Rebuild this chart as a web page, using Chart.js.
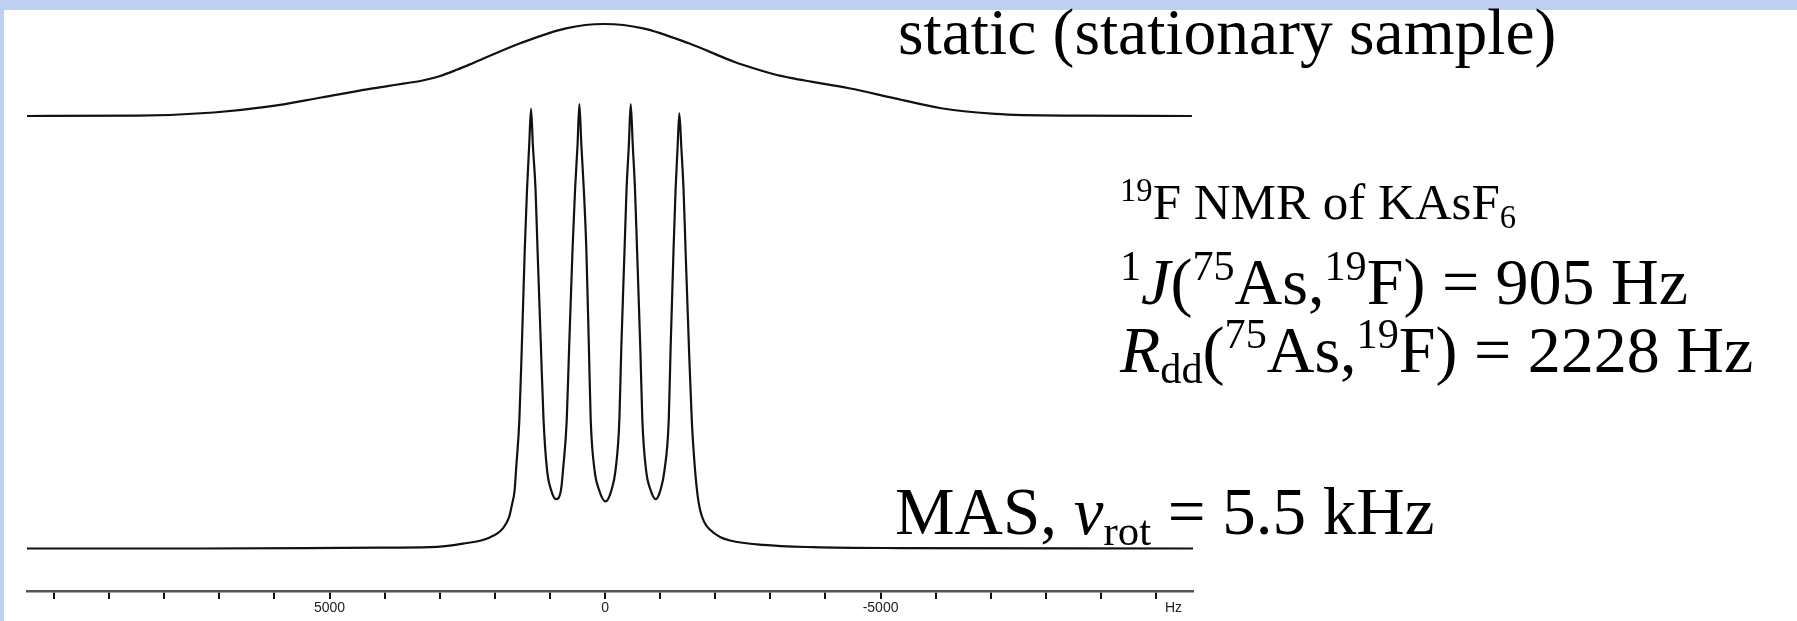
<!DOCTYPE html>
<html>
<head>
<meta charset="utf-8">
<script src="https://cdn.jsdelivr.net/npm/chart.js@4.4.0/dist/chart.umd.min.js"></script>
<style>
  html, body { margin: 0; padding: 0; background: #fff; }
  #wrap { position: relative; width: 1797px; height: 621px; }
</style>
</head>
<body>
<div id="wrap"><canvas id="nmr" width="1797" height="621"></canvas></div>
<script>
// 19F NMR of KAsF6 - frequency in Hz, intensity scaled so the tallest line is 100
var masHz = [10490, 7350, 4080, 3180, 2580, 2090, 1850, 1740, 1690, 1640,
    1615, 1555, 1512, 1457, 1416, 1376, 1343, 1310, 1261, 1225,
    1162, 1116, 1053, 980, 889, 799, 762, 695, 653, 590,
    544, 499, 466, 430, 385, 339, 292, 260, 191, 109,
    -9, -118, -191, -260, -294, -354, -390, -432, -466, -503,
    -544, -581, -641, -677, -744, -826, -920, -1007, -1080, -1156,
    -1189, -1243, -1280, -1316, -1348, -1385, -1425, -1461, -1524, -1574,
    -1633, -1679, -1724, -1797, -1906, -2087, -2269, -2868, -3775, -5354,
    -10670];
var masInt = [0, 0, 0.2, 0.3, 1.1, 2.5, 4.6, 7.1, 9.8, 13.2,
    17.7, 28.9, 44.7, 67.2, 80.7, 90.8, 98.9, 90.8, 80.7, 67.2,
    44.7, 28.9, 17.7, 13.2, 11.1, 13.2, 17.7, 28.9, 44.7, 67.2,
    80.7, 90.8, 100, 90.8, 80.7, 67.2, 44.7, 28.9, 17.7, 13.2,
    10.6, 13.2, 17.7, 28.9, 44.7, 67.2, 80.7, 90.8, 100, 90.8,
    80.7, 67.2, 44.7, 28.9, 17.7, 13.2, 11.1, 13.2, 17.7, 28.9,
    44.7, 67.2, 80.7, 90.1, 97.9, 90.1, 80.7, 67.2, 44.7, 28.9,
    17.7, 12.0, 8.7, 6.0, 4.2, 2.6, 1.8, 0.8, 0.3, 0.1,
    0];

// static (stationary sample) spectrum
var staticHz = [10490, 8480, 7100, 6120, 5150, 4320, 3950, 3630, 3310, 2990, 2680, 2380,
    1540, 710, 20, -690, -1520, -2340, -2710, -3050, -3390, -3740, -4430, -5260,
    -6100, -7080, -8460, -10650];
var staticInt = [0, 0.4, 3.8, 10.1, 20.1, 29.0, 32.5, 35.5, 38.6, 43.5, 50.5, 57.9,
    79.0, 95.3, 100, 95.3, 79.0, 59.0, 51.6, 45.6, 41.1, 37.3, 30.1, 19.2,
    8.4, 2.2, 0.3, 0];

// axis
var tickValues = [10000, 9000, 8000, 7000, 6000, 5000, 4000, 3000, 2000, 1000, 0,
    -1000, -2000, -3000, -4000, -5000, -6000, -7000, -8000, -9000, -10000];
var labelledTicks = [5000, 0, -5000];
var axisUnit = 'Hz';

var serif = '"Liberation Serif", "Times New Roman", serif';
var sans = '"Liberation Sans Narrow", "Arial Narrow", "Liberation Sans", sans-serif';

function toPoints(xs, ys) {
    return xs.map(function (x, i) { return { x: x, y: ys[i] }; });
}

// draws a line of text with super/subscripts and italics
function drawRich(ctx, x, y, runs, size) {
    runs.forEach(function (r) {
        var small = r.sup || r.sub;
        var s = small ? size * 0.64 : size;
        var dy = r.sup ? -size * 0.36 : (r.sub ? size * 0.17 : 0);
        ctx.font = (r.it ? 'italic ' : '') + s + 'px ' + serif;
        ctx.fillText(r.t, x, y + dy);
        x += ctx.measureText(r.t).width;
    });
}

var framePlugin = {
    id: 'frame',
    beforeDraw: function (chart) {
        var ctx = chart.ctx;
        ctx.save();
        ctx.fillStyle = '#ffffff';
        ctx.fillRect(0, 0, chart.width, chart.height);
        ctx.fillStyle = '#BED0F1';
        ctx.fillRect(0, 0, chart.width, 10);
        ctx.fillRect(0, 0, 4, chart.height);
        ctx.restore();
    }
};

var textPlugin = {
    id: 'notes',
    afterDraw: function (chart) {
        var ctx = chart.ctx;
        var area = chart.chartArea;
        ctx.save();
        ctx.textBaseline = 'alphabetic';

        // unit at the right end of the axis
        ctx.font = '14px ' + sans;
        ctx.fillStyle = '#222';
        ctx.textAlign = 'right';
        ctx.fillText(axisUnit, area.right - 11, area.bottom + 21);
        ctx.textAlign = 'left';
        ctx.fillStyle = '#000';

        drawRich(ctx, 898, 54, [{ t: 'static (stationary sample)' }], 65.5);
        drawRich(ctx, 1120, 219, [{ t: '19', sup: true }, { t: 'F NMR of KAsF' }, { t: '6', sub: true }], 51);
        drawRich(ctx, 1120, 304, [{ t: '1', sup: true }, { t: 'J', it: true }, { t: '(' },
            { t: '75', sup: true }, { t: 'As,' }, { t: '19', sup: true }, { t: 'F) = 905 Hz' }], 66);
        drawRich(ctx, 1120, 372, [{ t: 'R', it: true }, { t: 'dd', sub: true }, { t: '(' },
            { t: '75', sup: true }, { t: 'As,' }, { t: '19', sup: true }, { t: 'F) = 2228 Hz' }], 66);
        drawRich(ctx, 895, 534, [{ t: 'MAS, ' }, { t: 'ν', it: true }, { t: 'rot', sub: true },
            { t: ' = 5.5 kHz' }], 67);
        ctx.restore();
    }
};

var ctx = document.getElementById('nmr').getContext('2d');
var chart = new Chart(ctx, {
    type: 'line',
    data: {
        datasets: [{
            label: 'MAS',
            data: toPoints(masHz, masInt),
            yAxisID: 'y',
            borderColor: '#111',
            borderWidth: 2.2,
            pointRadius: 0,
            cubicInterpolationMode: 'monotone',
            borderJoinStyle: 'round',
            fill: false
        }, {
            label: 'static',
            data: toPoints(staticHz, staticInt),
            yAxisID: 'y2',
            borderColor: '#111',
            borderWidth: 2.2,
            pointRadius: 0,
            cubicInterpolationMode: 'monotone',
            borderJoinStyle: 'round',
            fill: false
        }]
    },
    options: {
        responsive: false,
        animation: false,
        devicePixelRatio: 1,
        layout: { padding: { top: 10, left: 27, right: 604, bottom: 0 } },
        plugins: {
            legend: { display: false },
            tooltip: { enabled: false }
        },
        scales: {
            x: {
                type: 'linear',
                reverse: true,
                min: -10670,
                max: 10490,
                afterBuildTicks: function (scale) {
                    scale.ticks = tickValues.map(function (v) { return { value: v }; });
                },
                afterFit: function (scale) { scale.height = 30; },
                ticks: {
                    autoSkip: false,
                    maxRotation: 0,
                    padding: 1,
                    color: '#222',
                    font: { family: sans, size: 14 },
                    callback: function (value) {
                        return labelledTicks.indexOf(value) >= 0 ? String(value) : '';
                    }
                },
                grid: {
                    drawOnChartArea: false,
                    drawTicks: true,
                    tickLength: 8,
                    color: '#111',
                    lineWidth: 2
                },
                border: { display: true, color: '#555', width: 2.5 }
            },
            y: { display: false, min: -9.56, max: 121.15 },
            y2: { display: false, min: -516.3, max: 115.2 }
        }
    },
    plugins: [framePlugin, textPlugin]
});
</script>
</body>
</html>
